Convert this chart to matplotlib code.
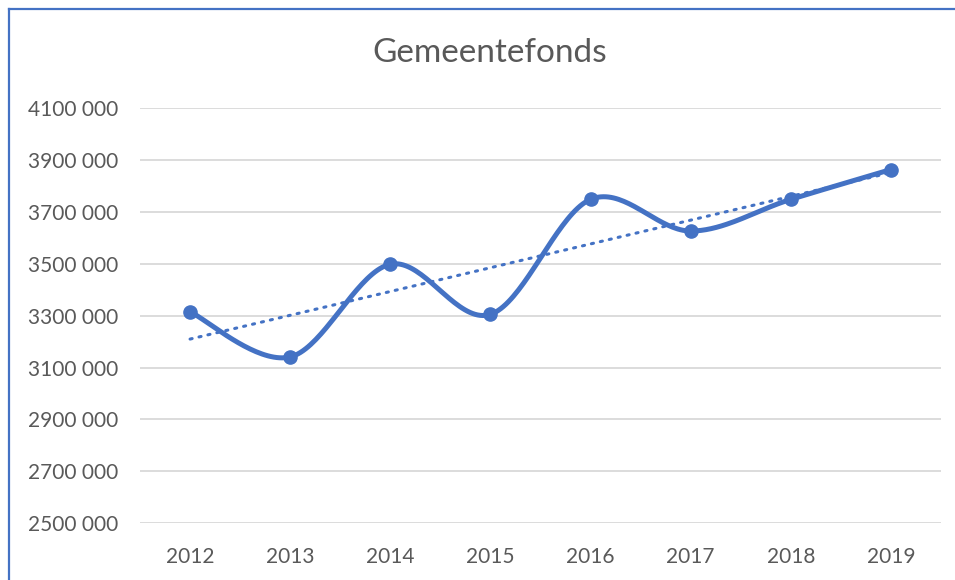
import numpy as np
import matplotlib
matplotlib.use('Agg')
import matplotlib.pyplot as plt
from matplotlib.lines import Line2D
from matplotlib.ticker import FuncFormatter

years = ['2012', '2013', '2014', '2015', '2016', '2017', '2018', '2019']
fonds = [3315000, 3141000, 3498000, 3305000, 3748000, 3626000, 3748000, 3863000]
yTicks = [2500000, 2700000, 2900000, 3100000, 3300000, 3500000, 3700000, 3900000, 4100000]

lineColor = '#4472C4'
textColor = '#595959'
gridColor = '#D9D9D9'

plt.rcParams['font.family'] = ['Lato', 'DejaVu Sans']


def smoothCurve(xs, ys, steps=40):
    # Excel-like smoothing: cubic bezier with catmull-rom control points
    xs = np.asarray(xs, dtype=float)
    ys = np.asarray(ys, dtype=float)
    n = len(xs)
    outX, outY = [], []
    t = np.linspace(0, 1, steps)
    for i in range(n - 1):
        p0 = np.array([xs[max(i - 1, 0)], ys[max(i - 1, 0)]])
        p1 = np.array([xs[i], ys[i]])
        p2 = np.array([xs[i + 1], ys[i + 1]])
        p3 = np.array([xs[min(i + 2, n - 1)], ys[min(i + 2, n - 1)]])
        c1 = p1 + (p2 - p0) / 6.0
        c2 = p2 - (p3 - p1) / 6.0
        for tt in t:
            pt = ((1 - tt) ** 3) * p1 + 3 * ((1 - tt) ** 2) * tt * c1 \
                + 3 * (1 - tt) * tt ** 2 * c2 + tt ** 3 * p2
            outX.append(pt[0])
            outY.append(pt[1])
    return outX, outY


def formatThousands(value, pos):
    value = int(round(value))
    return '{} {:03d}'.format(value // 1000, value % 1000)


xIdx = np.arange(len(years))
fig = plt.figure(figsize=(9.55, 5.8), dpi=100)
ax = fig.add_axes([140 / 955, 1 - 523.3 / 580, 801 / 955, 415.3 / 580])

# linear trendline (least squares)
slope, intercept = np.polyfit(xIdx, fonds, 1)
ax.plot(xIdx, slope * xIdx + intercept, color=lineColor, linewidth=2.2,
        linestyle=(0, (0.7, 2.3)), dash_capstyle='round', zorder=3)

sx, sy = smoothCurve(xIdx, fonds)
ax.plot(sx, sy, color=lineColor, linewidth=3.6, solid_capstyle='round', zorder=4)
ax.plot(xIdx, fonds, linestyle='none', marker='o', markersize=9.5,
        color=lineColor, zorder=5)

ax.set_xlim(-0.5, len(years) - 0.5)
ax.set_ylim(2500000, 4100000)
ax.set_xticks(xIdx)
ax.set_xticklabels(years)
ax.set_yticks(yTicks)
ax.yaxis.set_major_formatter(FuncFormatter(formatThousands))
ax.tick_params(axis='both', length=0, labelsize=15, labelcolor=textColor)
ax.tick_params(axis='y', pad=16)
ax.tick_params(axis='x', pad=17)
ax.grid(axis='y', color=gridColor, linewidth=1.3)
ax.set_axisbelow(True)
for spine in ax.spines.values():
    spine.set_visible(False)

fig.text(490 / 955, 1 - 53 / 580, 'Gemeentefonds', ha='center', va='center',
         fontsize=24, color=textColor)

# chart border (only top and left edges are visible in the crop)
fig.add_artist(Line2D([8.5 / 955, 8.5 / 955], [0, 1 - 9 / 580],
                      transform=fig.transFigure, color=lineColor, linewidth=1.6))
fig.add_artist(Line2D([8.5 / 955, 1], [1 - 9 / 580, 1 - 9 / 580],
                      transform=fig.transFigure, color=lineColor, linewidth=1.6))

fig.savefig('out.png', dpi=100)
